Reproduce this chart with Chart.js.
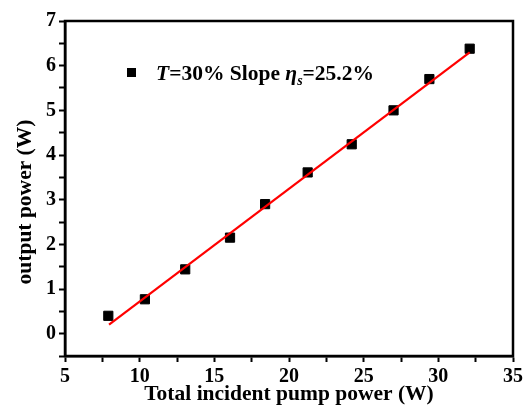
<!DOCTYPE html>
<html>
<head>
<meta charset="utf-8">
<script src="https://cdn.jsdelivr.net/npm/chart.js@4/dist/chart.umd.min.js"></script>
<style>
  body { margin: 0; background: #fff; }
  #wrap { position: relative; width: 526px; height: 407px; }
  #legend {
    position: absolute; left: 127px; top: 61px;
    font: bold 21.5px "Liberation Serif", "Times New Roman", serif;
    color: #000; white-space: nowrap;
  }
  #legend .box { display: inline-block; width: 9px; height: 9px; background: #000; margin-right: 20px; vertical-align: 3px; }
</style>
</head>
<body>
<div id="wrap">
  <canvas id="myChart" width="526" height="407"></canvas>
  <div id="legend"><span class="box"></span><i>T</i>=30% Slope <i>&eta;<sub style="font-size:14px">s</sub></i>=25.2%</div>
</div>
<script>
// measured points
const pumpPower = [7.9, 10.35, 13.05, 16.05, 18.4, 21.25, 24.2, 27.0, 29.4, 32.1];
const outputPower = [0.40, 0.77, 1.44, 2.15, 2.90, 3.61, 4.24, 5.00, 5.70, 6.38];
// linear fit end points
const fitX = [7.95, 32.1];
const fitY = [0.20, 6.30];

const family = '"Liberation Serif", "Times New Roman", serif';
const font = { family: family, weight: 'bold', size: 20 };
const titleFont = { family: family, weight: 'bold', size: 21.5 };

const frame = {
    id: 'frame',
    afterDatasetsDraw(chart) {
        const { ctx, chartArea: a } = chart;
        ctx.save();
        ctx.strokeStyle = '#000';
        ctx.lineWidth = 2.5;
        ctx.strokeRect(a.left, a.top, a.right - a.left, a.bottom - a.top);
        // y axis title, sits a bit below the centre like the original
        ctx.translate(25, 202);
        ctx.rotate(-Math.PI / 2);
        ctx.fillStyle = '#000';
        ctx.font = 'bold 21.5px ' + family;
        ctx.textAlign = 'center';
        ctx.textBaseline = 'middle';
        ctx.fillText('output power (W)', 0, 0);
        ctx.restore();
    }
};

new Chart(document.getElementById('myChart'), {
    type: 'scatter',
    data: {
        datasets: [{
            data: pumpPower.map((x, i) => ({ x: x, y: outputPower[i] })),
            pointStyle: 'rect',
            pointRadius: 6.5,
            backgroundColor: '#000',
            borderColor: '#000',
            order: 2
        }, {
            data: fitX.map((x, i) => ({ x: x, y: fitY[i] })),
            showLine: true,
            borderColor: '#ff0000',
            borderWidth: 2.2,
            pointRadius: 0,
            order: 1
        }]
    },
    options: {
        responsive: false,
        animation: false,
        layout: { padding: { top: 21, right: 11, left: 0, bottom: 0 } },
        plugins: { legend: { display: false }, tooltip: { enabled: false } },
        scales: {
            x: {
                min: 5, max: 35,
                afterFit: s => { s.height = 51; },
                border: { color: '#000', width: 2.5 },
                grid: { drawOnChartArea: false, tickLength: 6, tickColor: '#000', tickWidth: 2 },
                ticks: {
                    stepSize: 2.5, autoSkip: false, maxRotation: 0, color: '#000', font: font, padding: 3,
                    callback: v => (v % 5 === 0 ? v : '')
                },
                title: { display: true, text: 'Total incident pump power (W)', color: '#000', font: titleFont, padding: 0 }
            },
            y: {
                min: -0.5, max: 7,
                afterFit: s => { s.width = 65; },
                border: { color: '#000', width: 2.5 },
                grid: { drawOnChartArea: false, tickLength: 6, tickColor: '#000', tickWidth: 2 },
                ticks: {
                    stepSize: 0.5, autoSkip: false, color: '#000', font: font, padding: 3,
                    callback: v => (Number.isInteger(v) ? v : '')
                }
            }
        }
    },
    plugins: [frame]
});
</script>
</body>
</html>
